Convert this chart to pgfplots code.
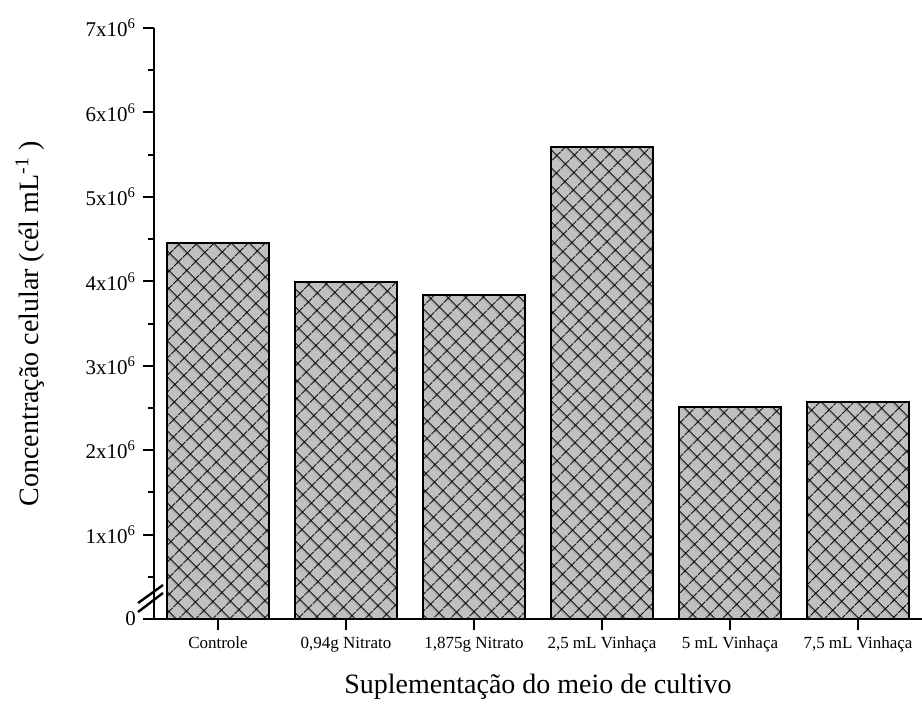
\documentclass[border=0pt]{standalone}
\usepackage{fontspec}
\setmainfont{Liberation Serif}
\usepackage{pgfplots}
\pgfplotsset{compat=1.18}
\usetikzlibrary{patterns.meta}
\definecolor{barfill}{HTML}{C0C0C0}
\begin{document}
\begin{tikzpicture}
\useasboundingbox (-77pt,-49.5pt) rectangle (384pt,309.5pt);
\begin{axis}[
  scale only axis,
  width=384pt, height=295.5pt,
  xmin=-0.5, xmax=5.5,
  ymin=0, ymax=7000000,
  axis lines*=left,
  axis line style={line width=1pt},
  clip=false,
  tick align=outside,
  major tick length=5.5pt,
  minor tick length=3pt,
  every tick/.style={line width=1pt, black},
  xtick={0,1,2,3,4,5},
  xticklabels={Controle,{0,94g Nitrato},{1,875g Nitrato},{2,5 mL Vinhaça},{5 mL Vinhaça},{7,5 mL Vinhaça}},
  ytick={0,1000000,2000000,3000000,4000000,5000000,6000000,7000000},
  yticklabels={0,1x10\textsuperscript{6},2x10\textsuperscript{6},3x10\textsuperscript{6},4x10\textsuperscript{6},5x10\textsuperscript{6},6x10\textsuperscript{6},7x10\textsuperscript{6}},
  scaled y ticks=false,
  minor y tick num=1,
  x tick label style={font=\fontsize{8.5}{10}\selectfont},
  y tick label style={font=\fontsize{10.5}{12}\selectfont},
  xlabel={Suplementação do meio de cultivo},
  ylabel={Concentração celular (cél mL\textsuperscript{-1} )},
  label style={font=\fontsize{14}{16}\selectfont},
  xlabel style={at={(axis description cs:0.5,0)}, anchor=center, yshift=-34pt},
  ylabel style={at={(axis description cs:0,0.5)}, anchor=center, yshift=62pt},
]
\addplot[ybar, bar width=0.8, draw=black, line width=0.8pt, fill=barfill,
  postaction={pattern={Hatch[angle=45,distance=6.5pt,line width=0.6pt]}}]
  coordinates {(0,4455000) (1,3990000) (2,3840000) (3,5590000) (4,2510000) (5,2570000)};
\draw[line width=1.2pt] (rel axis cs:-0.0208,0.027) -- (rel axis cs:0.0117,0.0575);
\draw[line width=1.2pt] (rel axis cs:-0.0208,0.0118) -- (rel axis cs:0.0117,0.044);
\end{axis}
\end{tikzpicture}
\end{document}
